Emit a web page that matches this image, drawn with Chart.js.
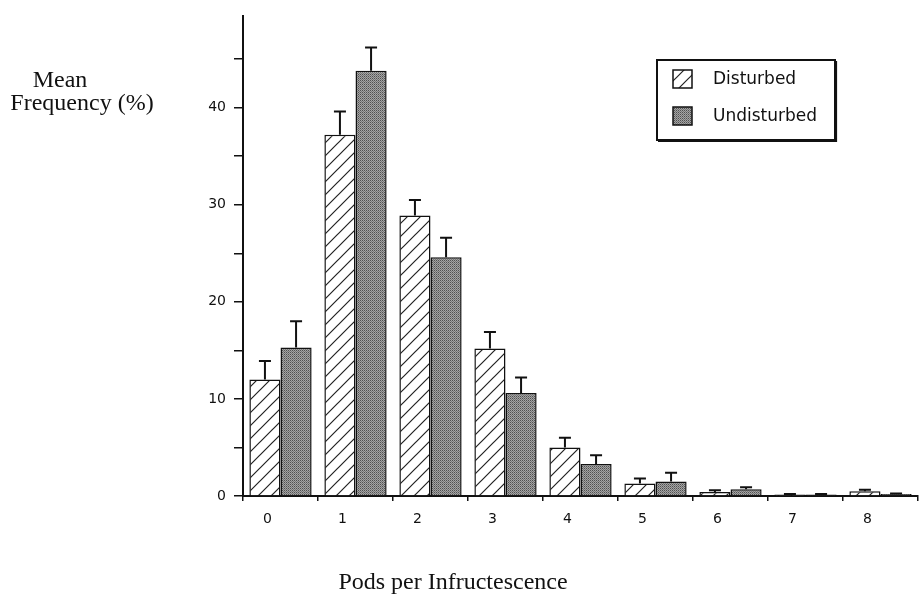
<!DOCTYPE html>
<html>
<head>
<meta charset="utf-8">
<script src="https://cdn.jsdelivr.net/npm/chart.js@4.4.0/dist/chart.umd.min.js"></script>
<style>
html, body { margin: 0; padding: 0; background: #fff; }
#wrap { position: relative; width: 920px; height: 602px; }
</style>
</head>
<body>
<div id="wrap"><canvas id="podChart"></canvas></div>
<script>
// data
var categories = ["0", "1", "2", "3", "4", "5", "6", "7", "8"];
var disturbed = [12.0, 37.2, 28.9, 15.2, 5.0, 1.3, 0.4, 0.15, 0.5];
var disturbedErr = [1.9, 2.4, 1.6, 1.7, 1.0, 0.5, 0.2, 0.05, 0.15];
var undisturbed = [15.3, 43.8, 24.6, 10.6, 3.3, 1.5, 0.7, 0.15, 0.2];
var undisturbedErr = [2.7, 2.4, 2.0, 1.6, 0.9, 0.9, 0.2, 0.05, 0.05];
var seriesNames = ["Disturbed", "Undisturbed"];
var yTickStep = 5;
var yLabelStep = 10;
var yMax = 49.4;

// hatch pattern (white with "/" lines)
function makeHatch() {
    var c = document.createElement('canvas');
    c.width = 13; c.height = 13;
    var g = c.getContext('2d');
    g.fillStyle = '#fff';
    g.fillRect(0, 0, 13, 13);
    g.strokeStyle = '#222';
    g.lineWidth = 1.2;
    g.beginPath();
    g.moveTo(-1, 14); g.lineTo(14, -1);
    g.moveTo(-2, 2); g.lineTo(2, -2);
    g.moveTo(11, 15); g.lineTo(15, 11);
    g.stroke();
    return g.createPattern(c, 'repeat');
}

// stipple pattern (dark grey dots)
function makeStipple() {
    var c = document.createElement('canvas');
    c.width = 2; c.height = 2;
    var g = c.getContext('2d');
    g.fillStyle = '#a4a4a4'; g.fillRect(0, 0, 2, 2);
    g.fillStyle = '#505050'; g.fillRect(0, 0, 1, 1);
    g.fillStyle = '#767676'; g.fillRect(1, 1, 1, 1);
    return g.createPattern(c, 'repeat');
}

var hatch = makeHatch();
var stipple = makeStipple();
var errors = [disturbedErr, undisturbedErr];

const errorBars = {
    id: 'errorBars',
    afterDatasetsDraw(chart) {
        const ctx = chart.ctx;
        const yScale = chart.scales.y;
        ctx.save();
        ctx.strokeStyle = '#111';
        ctx.lineWidth = 2;
        chart.data.datasets.forEach((ds, i) => {
            const meta = chart.getDatasetMeta(i);
            meta.data.forEach((bar, j) => {
                const top = yScale.getPixelForValue(ds.data[j] + errors[i][j]);
                ctx.beginPath();
                ctx.moveTo(bar.x, bar.y);
                ctx.lineTo(bar.x, top);
                ctx.moveTo(bar.x - 6, top);
                ctx.lineTo(bar.x + 6, top);
                ctx.stroke();
            });
        });
        ctx.restore();
    }
};

const extras = {
    id: 'extras',
    afterDraw(chart) {
        const ctx = chart.ctx;
        ctx.save();
        // axis titles
        ctx.fillStyle = '#111';
        ctx.font = '24px "Liberation Serif", "Times New Roman", serif';
        ctx.textAlign = 'center';
        ctx.textBaseline = 'middle';
        ctx.fillText('Mean', 60, 81);
        ctx.fillText('Frequency (%)', 82, 104);
        ctx.fillText('Pods per Infructescence', 453, 583);

        // legend box (slightly heavier bottom / right edge like the print)
        ctx.strokeStyle = '#111';
        ctx.lineWidth = 2;
        ctx.strokeRect(657, 60, 178, 80);
        ctx.beginPath();
        ctx.moveTo(658, 141.5); ctx.lineTo(836.5, 141.5); ctx.lineTo(836.5, 61);
        ctx.lineWidth = 1.2;
        ctx.stroke();

        var fills = [hatch, stipple];
        var swatchY = [70, 107];
        var textY = [80, 117];
        ctx.font = '17px "DejaVu Sans", sans-serif';
        ctx.textAlign = 'left';
        for (var k = 0; k < 2; k++) {
            ctx.fillStyle = fills[k];
            ctx.fillRect(673, swatchY[k], 19, 18);
            ctx.lineWidth = 1.5;
            ctx.strokeRect(673, swatchY[k], 19, 18);
            ctx.fillStyle = '#111';
            ctx.fillText(seriesNames[k], 713, textY[k]);
        }
        ctx.restore();
    }
};

new Chart('podChart', {
    type: 'bar',
    data: {
        labels: categories,
        datasets: [{
            label: seriesNames[0],
            data: disturbed,
            backgroundColor: hatch,
            borderColor: '#111',
            borderWidth: 1.5
        }, {
            label: seriesNames[1],
            data: undisturbed,
            backgroundColor: stipple,
            borderColor: '#111',
            borderWidth: 1.5
        }]
    },
    options: {
        responsive: true,
        maintainAspectRatio: false,
        animation: false,
        datasets: {
            bar: { barPercentage: 1.0, categoryPercentage: 0.83 }
        },
        layout: { padding: { top: 2, right: 2, left: 0, bottom: 0 } },
        plugins: {
            legend: { display: false },
            tooltip: { enabled: false }
        },
        scales: {
            x: {
                afterFit: function (scale) { scale.height = 106; },
                grid: {
                    drawOnChartArea: false,
                    drawTicks: true,
                    tickLength: 5,
                    color: '#111',
                    lineWidth: 1.5,
                    offset: true
                },
                border: { display: true, color: '#111', width: 2 },
                ticks: {
                    color: '#111',
                    padding: 10,
                    labelOffset: -13,
                    font: { family: '"DejaVu Sans", sans-serif', size: 14 }
                }
            },
            y: {
                min: 0,
                max: yMax,
                afterFit: function (scale) { scale.width = 243; },
                afterBuildTicks: function (axis) {
                    axis.ticks = axis.ticks.filter(function (t) { return t.value % yTickStep === 0; });
                },
                grid: {
                    drawOnChartArea: false,
                    drawTicks: true,
                    tickLength: 9,
                    color: '#111',
                    lineWidth: 1.5
                },
                border: { display: true, color: '#111', width: 2 },
                ticks: {
                    stepSize: yTickStep,
                    color: '#111',
                    padding: 8,
                    font: { family: '"DejaVu Sans", sans-serif', size: 14 },
                    callback: function (v) { return v % yLabelStep === 0 ? v : ''; }
                }
            }
        }
    },
    plugins: [errorBars, extras]
});
</script>
</body>
</html>
